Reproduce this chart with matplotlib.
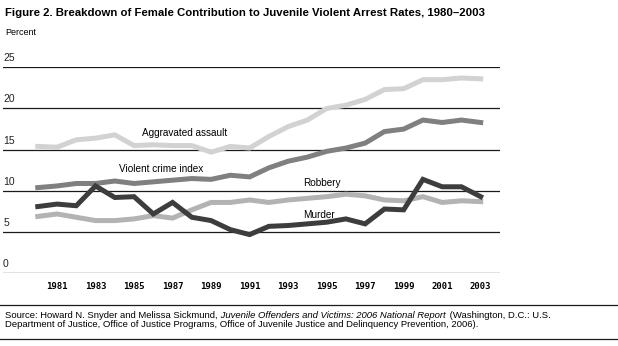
import matplotlib
matplotlib.use("Agg")
import matplotlib.pyplot as plt
import matplotlib.transforms as mtransforms

years = list(range(1980, 2004))

aggravated_assault = [15.4, 15.3, 16.2, 16.4, 16.8, 15.5, 15.6, 15.5, 15.5, 14.7,
                      15.4, 15.2, 16.6, 17.8, 18.6, 20.0, 20.4, 21.1, 22.3, 22.4,
                      23.5, 23.5, 23.7, 23.6]
violent_crime_index = [10.4, 10.6, 10.9, 10.9, 11.2, 10.9, 11.1, 11.3, 11.5, 11.4,
                       11.9, 11.7, 12.8, 13.6, 14.1, 14.8, 15.2, 15.8, 17.2, 17.5,
                       18.6, 18.3, 18.6, 18.3]
robbery = [6.9, 7.2, 6.8, 6.4, 6.4, 6.6, 7.0, 6.7, 7.7, 8.6,
           8.6, 8.9, 8.6, 8.9, 9.1, 9.3, 9.6, 9.4, 8.9, 8.8,
           9.3, 8.6, 8.8, 8.7]
murder = [8.1, 8.4, 8.2, 10.6, 9.2, 9.3, 7.2, 8.6, 6.8, 6.4,
          5.3, 4.7, 5.7, 5.8, 6.0, 6.2, 6.6, 6.0, 7.8, 7.7,
          11.4, 10.5, 10.5, 9.3]

y_ticks = [0, 5, 10, 15, 20, 25]
x_ticks = list(range(1981, 2004, 2))

plt.rcParams["font.family"] = ["Liberation Sans", "DejaVu Sans"]

fig = plt.figure(figsize=(6.18, 3.46), dpi=100)
ax = fig.add_axes([0.005, 0.2101, 0.804, 0.5954])

# horizontal rules instead of a frame
for v in y_ticks:
    ax.axhline(v, color="#1a1a1a", lw=0.9, zorder=1)

ax.plot(years, aggravated_assault, color="#d2d2d2", lw=3.6, zorder=3,
        solid_joinstyle="miter")
ax.plot(years, violent_crime_index, color="#808080", lw=3.6, zorder=3,
        solid_joinstyle="miter")
ax.plot(years, robbery, color="#b3b3b3", lw=3.6, zorder=3,
        solid_joinstyle="miter")
ax.plot(years, murder, color="#3d3d3d", lw=3.6, zorder=4,
        solid_joinstyle="miter")

ax.set_xlim(1978.2, 2004.0)
ax.set_ylim(0, 25)
for s in ax.spines.values():
    s.set_visible(False)
ax.set_yticks([])
ax.set_xticks(x_ticks)
ax.set_xticklabels([str(y) for y in x_ticks], family="DejaVu Sans Mono",
                   fontweight="bold", fontsize=6.5)
ax.tick_params(axis="x", length=0, pad=6)

# value labels sit just above each rule at the left edge
trans = mtransforms.blended_transform_factory(ax.transAxes, ax.transData)
for v in y_ticks:
    ax.text(0.0, v + 0.5, str(v), transform=trans, fontsize=7.5,
            ha="left", va="bottom", color="#222222")

ax.text(1985.4, 17.05, "Aggravated assault", fontsize=7.2, va="center")
ax.text(1984.2, 12.65, "Violent crime index", fontsize=7.2, va="center")
ax.text(1993.8, 10.95, "Robbery", fontsize=7.2, va="center")
ax.text(1993.8, 7.1, "Murder", fontsize=7.2, va="center")

fig.text(0.008, 0.962, "Figure 2. Breakdown of Female Contribution to Juvenile "
         "Violent Arrest Rates, 1980\u20132003", fontsize=8.2, fontweight="bold",
         va="center")
fig.text(0.008, 0.905, "Percent", fontsize=6.5, va="center")

fig.add_artist(plt.Line2D([0, 1], [1 - 305 / 346] * 2, color="#1a1a1a", lw=0.9))
fig.add_artist(plt.Line2D([0, 1], [1 - 339 / 346] * 2, color="#1a1a1a", lw=0.9))

# source note, first line in three runs so the book title can be italic
src_kw = dict(fontsize=6.8, va="bottom", annotation_clip=False)
s1 = ax.annotate("Source: Howard N. Snyder and Melissa Sickmund,",
                 xy=(0.008, 1 - 320 / 346), xycoords="figure fraction", **src_kw)
s2 = ax.annotate(" Juvenile Offenders and Victims: 2006 National Report",
                 xy=(1, 0), xycoords=s1, style="italic", **src_kw)
ax.annotate(" (Washington, D.C.: U.S.", xy=(1, 0), xycoords=s2,
            xytext=(1, 0), textcoords="offset points", **src_kw)
ax.annotate("Department of Justice, Office of Justice Programs, Office of Juvenile "
            "Justice and Delinquency Prevention, 2006).",
            xy=(0.008, 1 - 329 / 346), xycoords="figure fraction", **src_kw)

fig.savefig("out.png", dpi=100)
